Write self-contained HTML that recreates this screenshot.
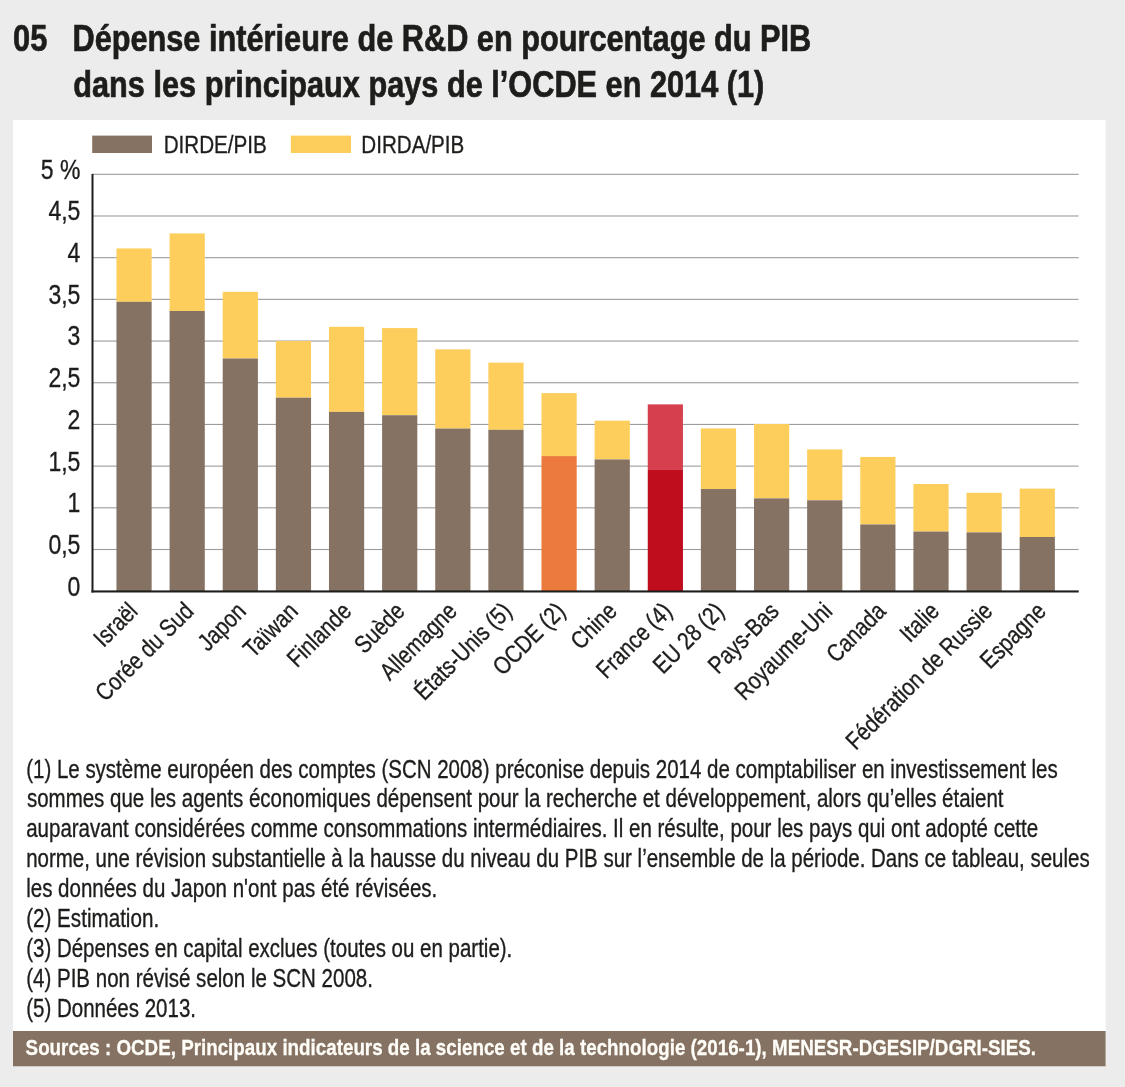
<!DOCTYPE html>
<html lang="fr"><head><meta charset="utf-8"><title>Dépense intérieure de R&amp;D en pourcentage du PIB</title>
<style>html,body{margin:0;padding:0;background:#ececec;}svg{display:block}text{font-family:"Liberation Sans",Arial,Helvetica,sans-serif;}</style></head>
<body><svg width="1125" height="1087" viewBox="0 0 1125 1087">
<rect width="1125" height="1087" fill="#ececec"/>
<rect x="13" y="120" width="1092.6" height="946.3" fill="#ffffff"/>
<rect x="13" y="1031" width="1092.6" height="35.3" fill="#857263"/>
<rect x="93" y="173.75" width="985.6" height="1.1" fill="#9c9c9c"/>
<rect x="93" y="215.44" width="985.6" height="1.1" fill="#9c9c9c"/>
<rect x="93" y="257.13" width="985.6" height="1.1" fill="#9c9c9c"/>
<rect x="93" y="298.82" width="985.6" height="1.1" fill="#9c9c9c"/>
<rect x="93" y="340.51" width="985.6" height="1.1" fill="#9c9c9c"/>
<rect x="93" y="382.20" width="985.6" height="1.1" fill="#9c9c9c"/>
<rect x="93" y="423.89" width="985.6" height="1.1" fill="#9c9c9c"/>
<rect x="93" y="465.58" width="985.6" height="1.1" fill="#9c9c9c"/>
<rect x="93" y="507.27" width="985.6" height="1.1" fill="#9c9c9c"/>
<rect x="93" y="548.96" width="985.6" height="1.1" fill="#9c9c9c"/>
<rect x="116.45" y="248.43" width="35.2" height="53.38" fill="#fdce5c"/>
<rect x="116.45" y="301.80" width="35.2" height="289.40" fill="#857263"/>
<rect x="169.58" y="233.41" width="35.2" height="77.56" fill="#fdce5c"/>
<rect x="169.58" y="310.98" width="35.2" height="280.22" fill="#857263"/>
<rect x="222.71" y="291.79" width="35.2" height="66.72" fill="#fdce5c"/>
<rect x="222.71" y="358.51" width="35.2" height="232.69" fill="#857263"/>
<rect x="275.84" y="341.00" width="35.2" height="56.71" fill="#fdce5c"/>
<rect x="275.84" y="397.71" width="35.2" height="193.49" fill="#857263"/>
<rect x="328.97" y="326.82" width="35.2" height="85.07" fill="#fdce5c"/>
<rect x="328.97" y="411.89" width="35.2" height="179.31" fill="#857263"/>
<rect x="382.10" y="328.07" width="35.2" height="87.15" fill="#fdce5c"/>
<rect x="382.10" y="415.23" width="35.2" height="175.97" fill="#857263"/>
<rect x="435.23" y="349.34" width="35.2" height="79.23" fill="#fdce5c"/>
<rect x="435.23" y="428.57" width="35.2" height="162.63" fill="#857263"/>
<rect x="488.36" y="362.68" width="35.2" height="67.14" fill="#fdce5c"/>
<rect x="488.36" y="429.82" width="35.2" height="161.38" fill="#857263"/>
<rect x="541.49" y="393.12" width="35.2" height="62.97" fill="#fdce5c"/>
<rect x="541.49" y="456.09" width="35.2" height="135.11" fill="#ec7a3c"/>
<rect x="594.62" y="420.65" width="35.2" height="38.78" fill="#fdce5c"/>
<rect x="594.62" y="459.43" width="35.2" height="131.77" fill="#857263"/>
<rect x="647.75" y="404.38" width="35.2" height="65.64" fill="#d63f4e"/>
<rect x="647.75" y="470.02" width="35.2" height="121.18" fill="#c00d1e"/>
<rect x="700.88" y="428.40" width="35.2" height="60.63" fill="#fdce5c"/>
<rect x="700.88" y="489.04" width="35.2" height="102.17" fill="#857263"/>
<rect x="754.01" y="423.98" width="35.2" height="74.39" fill="#fdce5c"/>
<rect x="754.01" y="498.38" width="35.2" height="92.82" fill="#857263"/>
<rect x="807.14" y="449.42" width="35.2" height="50.87" fill="#fdce5c"/>
<rect x="807.14" y="500.29" width="35.2" height="90.91" fill="#857263"/>
<rect x="860.27" y="456.93" width="35.2" height="67.55" fill="#fdce5c"/>
<rect x="860.27" y="524.48" width="35.2" height="66.72" fill="#857263"/>
<rect x="913.40" y="484.03" width="35.2" height="47.54" fill="#fdce5c"/>
<rect x="913.40" y="531.57" width="35.2" height="59.63" fill="#857263"/>
<rect x="966.53" y="492.79" width="35.2" height="39.62" fill="#fdce5c"/>
<rect x="966.53" y="532.40" width="35.2" height="58.80" fill="#857263"/>
<rect x="1019.66" y="488.62" width="35.2" height="48.37" fill="#fdce5c"/>
<rect x="1019.66" y="536.99" width="35.2" height="54.21" fill="#857263"/>
<rect x="91.5" y="173.9" width="2" height="418.6" fill="#1d1d1b"/>
<rect x="91.5" y="590.4" width="987.2" height="2.1" fill="#1d1d1b"/>
<text transform="translate(139.05,612.70) rotate(-45) scale(0.8400,1)" font-size="24.5" text-anchor="end" fill="#1d1d1b" stroke="#1d1d1b" stroke-width="0.35">Israël</text>
<text transform="translate(194.98,612.70) rotate(-45) scale(0.8400,1)" font-size="24.5" text-anchor="end" fill="#1d1d1b" stroke="#1d1d1b" stroke-width="0.35">Corée du Sud</text>
<text transform="translate(247.41,612.70) rotate(-45) scale(0.8400,1)" font-size="24.5" text-anchor="end" fill="#1d1d1b" stroke="#1d1d1b" stroke-width="0.35">Japon</text>
<text transform="translate(299.34,612.70) rotate(-45) scale(0.8400,1)" font-size="24.5" text-anchor="end" fill="#1d1d1b" stroke="#1d1d1b" stroke-width="0.35">Taïwan</text>
<text transform="translate(352.77,612.70) rotate(-45) scale(0.8400,1)" font-size="24.5" text-anchor="end" fill="#1d1d1b" stroke="#1d1d1b" stroke-width="0.35">Finlande</text>
<text transform="translate(406.20,612.70) rotate(-45) scale(0.8400,1)" font-size="24.5" text-anchor="end" fill="#1d1d1b" stroke="#1d1d1b" stroke-width="0.35">Suède</text>
<text transform="translate(458.43,612.70) rotate(-45) scale(0.8400,1)" font-size="24.5" text-anchor="end" fill="#1d1d1b" stroke="#1d1d1b" stroke-width="0.35">Allemagne</text>
<text transform="translate(513.06,612.70) rotate(-45) scale(0.8400,1)" font-size="24.5" text-anchor="end" fill="#1d1d1b" stroke="#1d1d1b" stroke-width="0.35">États-Unis (5)</text>
<text transform="translate(566.49,612.70) rotate(-45) scale(0.8400,1)" font-size="24.5" text-anchor="end" fill="#1d1d1b" stroke="#1d1d1b" stroke-width="0.35">OCDE (2)</text>
<text transform="translate(618.42,612.70) rotate(-45) scale(0.8400,1)" font-size="24.5" text-anchor="end" fill="#1d1d1b" stroke="#1d1d1b" stroke-width="0.35">Chine</text>
<text transform="translate(673.35,612.70) rotate(-45) scale(0.8400,1)" font-size="24.5" text-anchor="end" fill="#1d1d1b" stroke="#1d1d1b" stroke-width="0.35">France (4)</text>
<text transform="translate(725.28,612.70) rotate(-45) scale(0.8400,1)" font-size="24.5" text-anchor="end" fill="#1d1d1b" stroke="#1d1d1b" stroke-width="0.35">EU 28 (2)</text>
<text transform="translate(780.21,612.70) rotate(-45) scale(0.8400,1)" font-size="24.5" text-anchor="end" fill="#1d1d1b" stroke="#1d1d1b" stroke-width="0.35">Pays-Bas</text>
<text transform="translate(833.64,612.70) rotate(-45) scale(0.8400,1)" font-size="24.5" text-anchor="end" fill="#1d1d1b" stroke="#1d1d1b" stroke-width="0.35">Royaume-Uni</text>
<text transform="translate(887.07,612.70) rotate(-45) scale(0.8400,1)" font-size="24.5" text-anchor="end" fill="#1d1d1b" stroke="#1d1d1b" stroke-width="0.35">Canada</text>
<text transform="translate(940.50,612.70) rotate(-45) scale(0.8400,1)" font-size="24.5" text-anchor="end" fill="#1d1d1b" stroke="#1d1d1b" stroke-width="0.35">Italie</text>
<text transform="translate(993.93,612.70) rotate(-45) scale(0.8400,1)" font-size="24.5" text-anchor="end" fill="#1d1d1b" stroke="#1d1d1b" stroke-width="0.35">Fédération de Russie</text>
<text transform="translate(1047.36,612.70) rotate(-45) scale(0.8400,1)" font-size="24.5" text-anchor="end" fill="#1d1d1b" stroke="#1d1d1b" stroke-width="0.35">Espagne</text>
<text transform="translate(80.30,178.70) scale(0.8200,1)" font-size="28" text-anchor="end" fill="#1d1d1b" stroke="#1d1d1b" stroke-width="0.35">5 %</text>
<text transform="translate(80.30,220.39) scale(0.8200,1)" font-size="28" text-anchor="end" fill="#1d1d1b" stroke="#1d1d1b" stroke-width="0.35">4,5</text>
<text transform="translate(80.30,262.08) scale(0.8200,1)" font-size="28" text-anchor="end" fill="#1d1d1b" stroke="#1d1d1b" stroke-width="0.35">4</text>
<text transform="translate(80.30,303.77) scale(0.8200,1)" font-size="28" text-anchor="end" fill="#1d1d1b" stroke="#1d1d1b" stroke-width="0.35">3,5</text>
<text transform="translate(80.30,345.46) scale(0.8200,1)" font-size="28" text-anchor="end" fill="#1d1d1b" stroke="#1d1d1b" stroke-width="0.35">3</text>
<text transform="translate(80.30,387.15) scale(0.8200,1)" font-size="28" text-anchor="end" fill="#1d1d1b" stroke="#1d1d1b" stroke-width="0.35">2,5</text>
<text transform="translate(80.30,428.84) scale(0.8200,1)" font-size="28" text-anchor="end" fill="#1d1d1b" stroke="#1d1d1b" stroke-width="0.35">2</text>
<text transform="translate(80.30,470.53) scale(0.8200,1)" font-size="28" text-anchor="end" fill="#1d1d1b" stroke="#1d1d1b" stroke-width="0.35">1,5</text>
<text transform="translate(80.30,512.22) scale(0.8200,1)" font-size="28" text-anchor="end" fill="#1d1d1b" stroke="#1d1d1b" stroke-width="0.35">1</text>
<text transform="translate(80.30,553.91) scale(0.8200,1)" font-size="28" text-anchor="end" fill="#1d1d1b" stroke="#1d1d1b" stroke-width="0.35">0,5</text>
<text transform="translate(80.30,595.60) scale(0.8200,1)" font-size="28" text-anchor="end" fill="#1d1d1b" stroke="#1d1d1b" stroke-width="0.35">0</text>
<rect x="92.2" y="135.6" width="59.8" height="17.4" fill="#857263"/>
<rect x="290.8" y="135.6" width="60.2" height="17.4" fill="#fdce5c"/>
<text transform="translate(163.63,153.00) scale(0.8364,1)" font-size="24.7" fill="#1d1d1b" stroke="#1d1d1b" stroke-width="0.35">DIRDE/PIB</text>
<text transform="translate(361.33,153.00) scale(0.8339,1)" font-size="24.7" fill="#1d1d1b" stroke="#1d1d1b" stroke-width="0.35">DIRDA/PIB</text>
<text transform="translate(13.07,50.70) scale(0.8253,1)" font-size="37.3" font-weight="bold" fill="#1d1d1b" stroke="#1d1d1b" stroke-width="0.7">05</text>
<text transform="translate(72.45,50.70) scale(0.8235,1)" font-size="37.3" font-weight="bold" fill="#1d1d1b" stroke="#1d1d1b" stroke-width="0.7">Dépense intérieure de R&amp;D en pourcentage du PIB</text>
<text transform="translate(73.28,96.80) scale(0.8232,1)" font-size="37.3" font-weight="bold" fill="#1d1d1b" stroke="#1d1d1b" stroke-width="0.7">dans les principaux pays de l’OCDE en 2014 (1)</text>
<text transform="translate(26.18,777.50) scale(0.8199,1)" font-size="25" fill="#1d1d1b" stroke="#1d1d1b" stroke-width="0.35">(1) Le système européen des comptes (SCN 2008) préconise depuis 2014 de comptabiliser en investissement les</text>
<text transform="translate(27.00,807.39) scale(0.8193,1)" font-size="25" fill="#1d1d1b" stroke="#1d1d1b" stroke-width="0.35">sommes que les agents économiques dépensent pour la recherche et développement, alors qu’elles étaient</text>
<text transform="translate(26.18,837.28) scale(0.8202,1)" font-size="25" fill="#1d1d1b" stroke="#1d1d1b" stroke-width="0.35">auparavant considérées comme consommations intermédiaires. Il en résulte, pour les pays qui ont adopté cette</text>
<text transform="translate(26.18,867.17) scale(0.8199,1)" font-size="25" fill="#1d1d1b" stroke="#1d1d1b" stroke-width="0.35">norme, une révision substantielle à la hausse du niveau du PIB sur l’ensemble de la période. Dans ce tableau, seules</text>
<text transform="translate(26.18,897.06) scale(0.8213,1)" font-size="25" fill="#1d1d1b" stroke="#1d1d1b" stroke-width="0.35">les données du Japon n'ont pas été révisées.</text>
<text transform="translate(26.17,926.95) scale(0.8255,1)" font-size="25" fill="#1d1d1b" stroke="#1d1d1b" stroke-width="0.35">(2) Estimation.</text>
<text transform="translate(26.18,956.84) scale(0.8197,1)" font-size="25" fill="#1d1d1b" stroke="#1d1d1b" stroke-width="0.35">(3) Dépenses en capital exclues (toutes ou en partie).</text>
<text transform="translate(26.18,986.73) scale(0.8215,1)" font-size="25" fill="#1d1d1b" stroke="#1d1d1b" stroke-width="0.35">(4) PIB non révisé selon le SCN 2008.</text>
<text transform="translate(26.18,1016.62) scale(0.8200,1)" font-size="25" fill="#1d1d1b" stroke="#1d1d1b" stroke-width="0.35">(5) Données 2013.</text>
<text transform="translate(25.60,1054.60) scale(0.8207,1)" font-size="22.9" font-weight="bold" fill="#fffdf8" stroke="#fffdf8" stroke-width="0.3">Sources : OCDE, Principaux indicateurs de la science et de la technologie (2016-1), MENESR-DGESIP/DGRI-SIES.</text>
</svg></body></html>
